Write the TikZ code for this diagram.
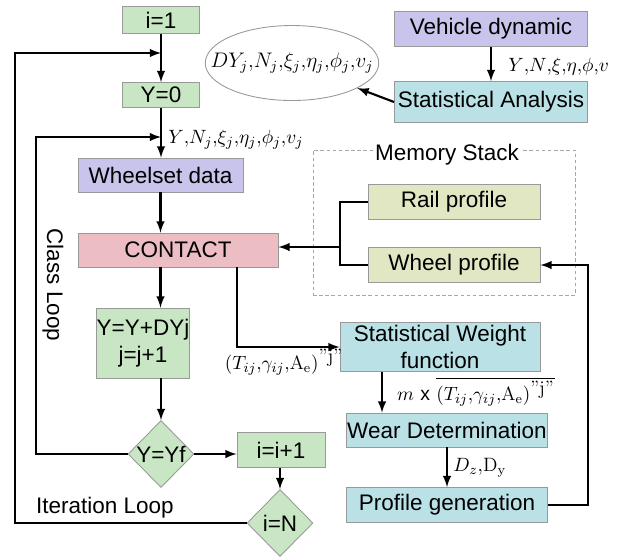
\documentclass[tikz,border=0pt]{standalone}
\usepackage{fontspec}
\newfontfamily\arial{Liberation Sans}
\usetikzlibrary{shapes.geometric}
\definecolor{boxgreen}{RGB}{200,230,195}
\definecolor{boxpurple}{RGB}{200,196,236}
\definecolor{boxpink}{RGB}{236,190,196}
\definecolor{boxcyan}{RGB}{186,226,230}
\definecolor{boxolive}{RGB}{225,230,195}

\begin{document}
\begin{tikzpicture}
[x=0.02cm, y=-0.02cm,
    box/.style={draw=gray!80, line width=0.5pt, inner sep=0pt,
        font=\arial\fontsize{12.8}{15}\selectfont, align=center},
    greenbox/.style={box, fill=boxgreen},
    purplebox/.style={box, fill=boxpurple},
    pinkbox/.style={box, fill=boxpink},
    cyanbox/.style={box, fill=boxcyan},
    olivebox/.style={box, fill=boxolive},
    test/.style={box, fill=boxgreen, diamond, minimum width=1.32cm, minimum height=1.34cm},
    lab/.style={inner sep=0pt, font=\fontsize{11}{13}\selectfont},
    looplab/.style={inner sep=1pt, font=\arial\fontsize{12.8}{15}\selectfont},
    flow/.style={line width=1.2pt, -latex},
    wire/.style={line width=1.2pt}]
\useasboundingbox (0,0) rectangle (625,556);

\node [greenbox, minimum width=1.54cm, minimum height=0.54cm] (i1) at (161,20) {i=1};
\node [greenbox, minimum width=1.54cm, minimum height=0.5cm] (y0) at (161,95) {Y=0};
\node [purplebox, minimum width=3.3cm, minimum height=0.68cm] (wheelset) at (160.5,175) {Wheelset data};
\node [pinkbox, minimum width=4cm, minimum height=0.68cm] (contact) at (178,250) {CONTACT};
\node [greenbox, minimum width=1.8cm, minimum height=1.4cm] (ydy) at (143,343) {Y=Y+DYj\\j=j+1};
\node [test] (yf) at (161,454) {Y=Yf};
\node [greenbox, minimum width=1.76cm, minimum height=0.7cm] (inc) at (281,450) {i=i+1};
\node [test] (iN) at (280,523) {i=N};

\node [purplebox, minimum width=3.86cm, minimum height=0.7cm] (vd) at (491,29) {Vehicle dynamic};
\node [cyanbox, minimum width=3.86cm, minimum height=0.82cm] (stata) at (491,102) {Statistical Analysis};
\node [ellipse, draw=gray!80, line width=0.5pt, minimum width=3.4cm, minimum height=1.5cm,
    inner xsep=-0.4cm, inner ysep=0pt, font=\fontsize{11.5}{13}\selectfont] (ell) at (292,63)
    {$DY_j{,}N_j{,}\xi_j{,}\eta_j{,}\phi_j{,}v_j$};

\node [draw=gray!70, dash pattern=on 2pt off 1.5pt, line width=0.5pt, minimum width=5.24cm, minimum height=2.9cm] (mem) at (444,222.5) {};
\node [looplab, fill=white] (memlab) at (447,155) {Memory Stack};
\node [olivebox, minimum width=3.44cm, minimum height=0.7cm] (rail) at (454,202) {Rail profile};
\node [olivebox, minimum width=3.44cm, minimum height=0.7cm] (wheel) at (454,265) {Wheel profile};

\node [cyanbox, minimum width=4cm, minimum height=0.98cm] (swf) at (440,347) {Statistical Weight\\function};
\node [cyanbox, minimum width=4.02cm, minimum height=0.68cm] (wear) at (447,430) {Wear Determination};
\node [cyanbox, minimum width=4.02cm, minimum height=0.7cm] (prof) at (447,505) {Profile generation};

\node [looplab, rotate=-90] (classlab) at (53,285) {Class Loop};
\node [looplab] (iterlab) at (105,508) {Iteration Loop};

\node [lab, anchor=west] (ylab) at (168,140) {$Y{,}N_j{,}\xi_j{,}\eta_j{,}\phi_j{,}v_j$};
\node [lab, anchor=west] (vlab) at (508,67) {$Y{,}N{,}\xi{,}\eta{,}\phi{,}v$};
\node [lab] (tlab) at (284,362) {$(T_{ij}{,}\gamma_{ij}{,}\mathrm{A_e})^{\textnormal{"j"}}$};
\node [lab] (mlab) at (476,392) {$m$ {\arial x} $\overline{(T_{ij}{,}\gamma_{ij}{,}\mathrm{A_e})^{\textnormal{"j"}}}$};
\node [lab, anchor=west] (dlab) at (453,468) {$D_z{,}\mathrm{D_y}$};

\coordinate (cl) at (161,137);
\coordinate (il) at (161,53);
\coordinate (br) at (340,247);

\draw [flow] (i1) -- (y0);
\draw [flow] (y0.south) -- (y0.south |- wheelset.north);
\draw [flow] (wheelset.south) -- (wheelset.south |- contact.north);
\draw [flow] (wheelset.south |- contact.south) -- (wheelset.south |- ydy.north);
\draw [flow] (yf.north |- ydy.south) -- (yf.north);
\draw [flow] (yf.east) -- (yf.east -| inc.west);
\draw [flow] (inc.south -| iN.north) -- (iN.north);
\draw [flow] (yf.west) -| (36,137) -- (cl);
\draw [flow] (iN.west) -| (15,53) -- (il);
\draw [flow] ([xshift=1.18cm]contact.south) |- (swf.west);
\draw [flow] ([xshift=-1.16cm]swf.south) -- ([xshift=-1.16cm]swf.south |- wear.north);
\draw [flow] (wear.south) -- (prof.north);
\draw [flow] (prof.east) -| ([xshift=0.96cm]wheel.east) -- (wheel.east);
\draw [flow] (vd) -- (stata);
\draw [flow] (stata.west) -- (ell.-21);
\draw [wire] (rail.west) -- ++(-28,0) |- (wheel.west);
\draw [flow] (br) -- (br -| contact.east);
\end{tikzpicture}
\end{document}
